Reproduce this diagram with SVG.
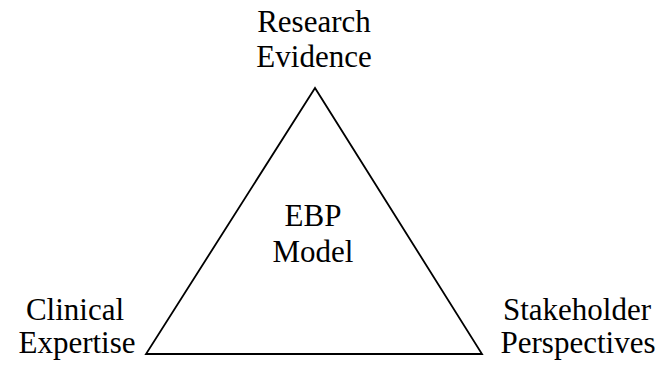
<svg xmlns="http://www.w3.org/2000/svg" width="663" height="371" viewBox="0 0 663 371">
<style>
text{font-family:"Liberation Serif","Times New Roman",serif;font-size:31px;fill:#000;text-anchor:middle}
.edge{fill:none;stroke:#000;stroke-width:1.8;stroke-linejoin:miter}
</style>
<rect width="663" height="371" fill="#fff"/>
<g id="connectors">
<polygon class="edge" points="315,88 146,354 482,354"/>
</g>
<g id="research">
<text x="314" y="32">Research</text>
<text x="314" y="67">Evidence</text>
</g>
<g id="ebp">
<text x="313" y="226">EBP</text>
<text x="313" y="262">Model</text>
</g>
<g id="clinical">
<text x="75" y="320">Clinical</text>
<text x="77" y="353">Expertise</text>
</g>
<g id="stakeholder">
<text x="577" y="320">Stakeholder</text>
<text x="578" y="353">Perspectives</text>
</g>
</svg>
